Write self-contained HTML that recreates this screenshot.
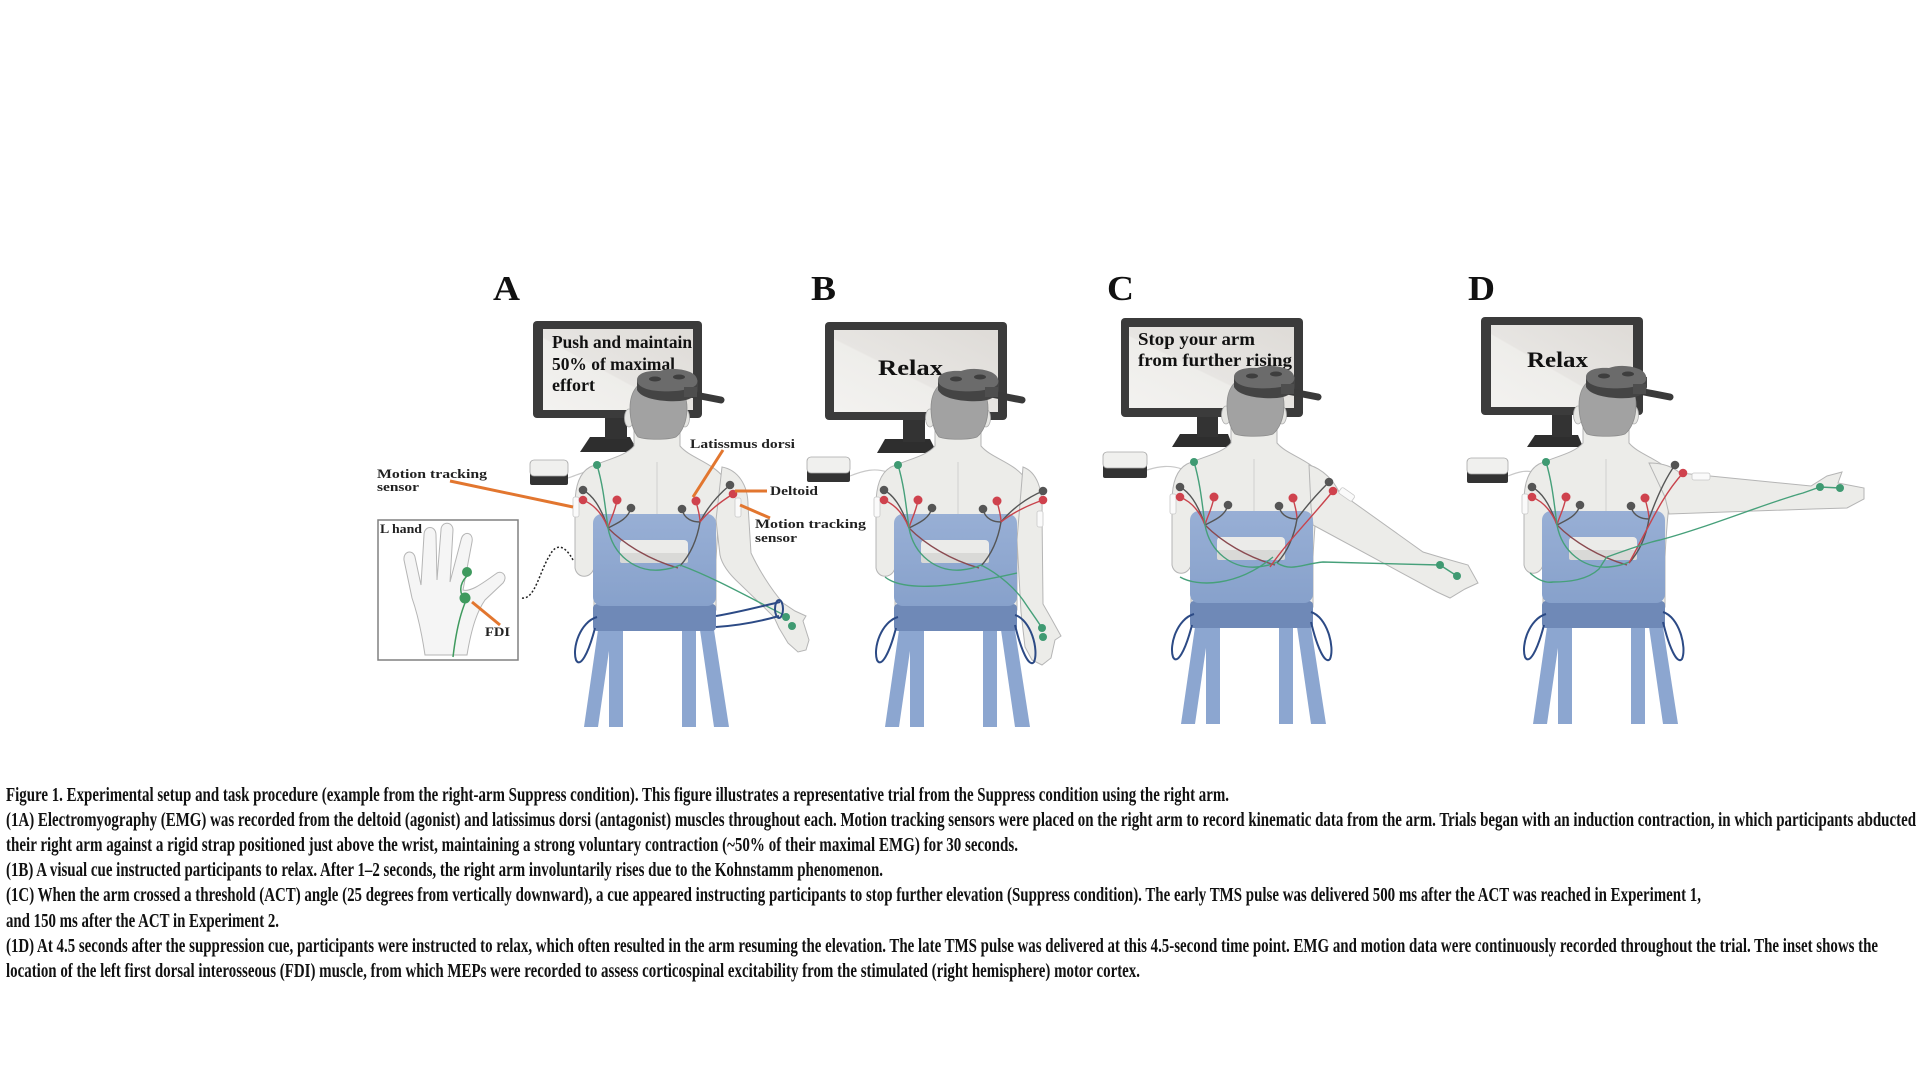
<!DOCTYPE html>
<html><head><meta charset="utf-8"><style>
html,body{margin:0;padding:0;background:#fff;}
svg{display:block;}
.lab{font-family:"Liberation Serif",serif;font-weight:bold;fill:#111;}
.cap{font-family:"Liberation Serif",serif;font-weight:bold;fill:#111;font-size:19.5px;}
.ann{font-family:"Liberation Serif",serif;font-weight:bold;fill:#222;font-size:13px;}
</style></head><body>
<svg width="1920" height="1079" viewBox="0 0 1920 1079" xmlns="http://www.w3.org/2000/svg">
<defs>
<linearGradient id="scr" x1="1" y1="0" x2="0" y2="1">
<stop offset="0" stop-color="#dedbd7"/><stop offset="0.55" stop-color="#e7e5e2"/><stop offset="0.56" stop-color="#eeedea"/><stop offset="1" stop-color="#f3f2f0"/>
</linearGradient>
<linearGradient id="chr" x1="0" y1="0" x2="0" y2="1">
<stop offset="0" stop-color="#98afd5"/><stop offset="1" stop-color="#87a1cb"/>
</linearGradient>
<g id="tb">
<path d="M634 430 L634 446 C626 456 605 460 590 467 C579 473 575 488 575 505 L575 568 C577 579 591 579 594 568 L594 610 L716 610 L716 560 C718 520 722 490 724 478 C712 462 690 458 680 446 L680 430 Z" fill="#ecece9" stroke="#b5b5b5" stroke-width="1"/>
<path d="M657 462 L657 515" stroke="#cfcfcf" stroke-width="1"/>
<rect x="573" y="497" width="6" height="20" rx="2" fill="#fafafa" stroke="#c8c8c8" stroke-width="0.8"/>
<ellipse cx="629" cy="418" rx="4.5" ry="9" fill="#e6e6e3" stroke="#b0b0b0" stroke-width="0.8"/>
<ellipse cx="685" cy="418" rx="4.5" ry="9" fill="#e6e6e3" stroke="#b0b0b0" stroke-width="0.8"/>
<path d="M630 408 C630 388 642 378 657 378 C674 378 687 390 687 408 C687 422 682 432 676 437 C668 440 646 440 638 437 C633 431 630 420 630 408 Z" fill="#a2a2a2" stroke="#8c8c8c" stroke-width="0.8"/>
<path d="M690 394 L721 400" stroke="#3a3a3a" stroke-width="7" stroke-linecap="round"/>
<path d="M637 380 L637 390 C642 400 666 402 680 401 C690 400 697 396 698 390 L698 380 Z" fill="#444"/>
<path d="M637 380 C637 373 648 370 660 371 C668 368 680 368 690 372 C697 375 699 381 696 385 C690 391 670 392 658 391 C645 390 637 386 637 380 Z" fill="#6b6b6b"/>
<rect x="684" y="387" width="13" height="10" fill="#4e4e4e"/>
<ellipse cx="655" cy="379" rx="6" ry="2.5" fill="#3e3e3e"/>
<ellipse cx="679" cy="377" rx="6" ry="2.5" fill="#3e3e3e"/>
</g>
<g id="tf">
<polygon points="598,630 612,630 598,727 584,727" fill="#8ca6d0"/>
<polygon points="609,630 623,630 623,727 609,727" fill="#8ca6d0"/>
<polygon points="682,630 696,630 696,727 682,727" fill="#8ca6d0"/>
<polygon points="700,630 714,630 729,727 714,727" fill="#8ca6d0"/>
<rect x="593" y="604" width="123" height="27" rx="4" fill="#6f89b7"/>
<rect x="593" y="514" width="123" height="92" rx="9" fill="url(#chr)"/>
<rect x="620" y="540" width="68" height="23" rx="4" fill="#ebebe9"/>
<rect x="620" y="553" width="68" height="10" rx="2" fill="#d9d9d7"/>
<g fill="none" stroke-width="1.4">
<path d="M583 490 C592 495 600 505 608 528" stroke="#555"/>
<path d="M583 500 C595 505 603 515 608 528" stroke="#c8434c"/>
<path d="M617 500 C615 512 610 520 608 528" stroke="#c8434c"/>
<path d="M631 508 C628 520 615 524 608 528" stroke="#555"/>
<path d="M608 528 C625 545 650 560 678 568" stroke="#8a4a50"/>
<path d="M682 509 C684 520 694 522 700 522" stroke="#555"/>
<path d="M696 501 C698 510 700 515 700 522" stroke="#c8434c"/>
<path d="M700 522 C697 540 690 555 680 566" stroke="#555"/>
<path d="M597 465 C603 485 605 505 608 528 C613 555 635 572 660 570 C670 569 676 567 680 565" stroke="#46a07a"/>
</g>
<circle cx="597" cy="465" r="4" fill="#3f9a72"/>
<circle cx="583" cy="490" r="4.3" fill="#555"/>
<circle cx="583" cy="500" r="4.3" fill="#cf424d"/>
<circle cx="617" cy="500" r="4.5" fill="#cf424d"/>
<circle cx="631" cy="508" r="4.3" fill="#555"/>
<circle cx="682" cy="509" r="4.3" fill="#555"/>
<circle cx="696" cy="501" r="4.5" fill="#cf424d"/>
<path d="M597 617 C580 622 572 648 576 660 C580 668 588 655 595 628" fill="none" stroke="#2c4a85" stroke-width="2"/>
</g>
</defs>
<rect width="1920" height="1079" fill="#fff"/>

<!-- Panel labels -->
<text class="lab" x="493" y="300" font-size="35" textLength="27" lengthAdjust="spacingAndGlyphs">A</text>
<text class="lab" x="811" y="300" font-size="35" textLength="25" lengthAdjust="spacingAndGlyphs">B</text>
<text class="lab" x="1107" y="300" font-size="35" textLength="27" lengthAdjust="spacingAndGlyphs">C</text>
<text class="lab" x="1468" y="300" font-size="35" textLength="27" lengthAdjust="spacingAndGlyphs">D</text>

<!-- ================= PANEL A ================= -->
<polygon points="590,437 630,437 638,452 580,452" fill="#2e2e2e"/>
<rect x="605" y="416" width="22" height="23" fill="#333"/>
<rect x="533" y="321" width="169" height="97" rx="4" fill="#3b3b3b"/>
<rect x="543" y="329" width="150" height="81" fill="url(#scr)"/>
<text class="lab" x="552" y="348" font-size="18" textLength="140" lengthAdjust="spacingAndGlyphs">Push and maintain</text>
<text class="lab" x="552" y="370" font-size="18" textLength="123" lengthAdjust="spacingAndGlyphs">50% of maximal</text>
<text class="lab" x="552" y="391" font-size="18" textLength="43" lengthAdjust="spacingAndGlyphs">effort</text>
<path d="M568 478 C575 476 580 473 586 472" fill="none" stroke="#c8c8c8" stroke-width="1.2"/>
<rect x="530" y="472" width="38" height="13" rx="2" fill="#333"/>
<rect x="530" y="460" width="38" height="16" rx="4" fill="#f0f0ee" stroke="#a8a8a8" stroke-width="0.8"/>
<g>
<use href="#tb"/>
<path d="M722 467 C738 470 748 485 748 505 L751 553 C758 568 770 588 783 603 L795 611 L806 616 L803 621 L809 640 L806 650 L798 652 L788 643 L779 628 L774 617 L740 584 C730 575 722 565 720 555 L716 520 Z" fill="#ecece9" stroke="#b5b5b5" stroke-width="1"/>
<rect x="735" y="498" width="6" height="19" rx="2" fill="#fafafa" stroke="#c8c8c8" stroke-width="0.8"/>
<use href="#tf"/>
<g fill="none" stroke-width="1.4">
<path d="M730 485 C718 495 707 508 700 522" stroke="#555"/>
<path d="M733 494 C720 502 708 512 700 522" stroke="#c8434c"/>
<path d="M680 565 C715 578 750 598 784 615" stroke="#46a07a"/>
<path d="M716 616 C740 612 762 606 780 602" stroke="#2c4a85" stroke-width="2"/>
<path d="M716 627 C745 625 765 620 779 616" stroke="#2c4a85" stroke-width="2"/>
<ellipse cx="779" cy="609" rx="4" ry="9" stroke="#2c4a85" stroke-width="2"/>
</g>
<circle cx="730" cy="485" r="4.3" fill="#555"/>
<circle cx="733" cy="494" r="4.3" fill="#cf424d"/>
<circle cx="786" cy="617" r="4" fill="#3f9a72"/>
<circle cx="792" cy="626" r="4" fill="#3f9a72"/>
</g>
<!-- annotations A -->
<g stroke="#e2762f" stroke-width="3" fill="none">
<path d="M450 481 L573 507"/>
<path d="M723 450 L693 497"/>
<path d="M735 491 L767 491"/>
<path d="M740 505 L770 518"/>
</g>
<text class="ann" x="377" y="478" textLength="110" lengthAdjust="spacingAndGlyphs">Motion tracking</text>
<text class="ann" x="377" y="491" textLength="42" lengthAdjust="spacingAndGlyphs">sensor</text>
<text class="ann" x="690" y="448" textLength="105" lengthAdjust="spacingAndGlyphs">Latissmus dorsi</text>
<text class="ann" x="770" y="495" textLength="48" lengthAdjust="spacingAndGlyphs">Deltoid</text>
<text class="ann" x="755" y="528" textLength="111" lengthAdjust="spacingAndGlyphs">Motion tracking</text>
<text class="ann" x="755" y="542" textLength="42" lengthAdjust="spacingAndGlyphs">sensor</text>
<!-- inset -->
<rect x="378" y="520" width="140" height="140" fill="#fff" stroke="#808080" stroke-width="1.5"/>
<text class="ann" x="380" y="533" font-size="12" textLength="42" lengthAdjust="spacingAndGlyphs">L hand</text>
<path d="M425 655 C422 635 418 615 412 598 L404 560 C403 551 413 549 415 557 L421 585 L424 535 C424 525 436 525 436 535 L437 580 L441 530 C441 521 453 521 453 530 L450 582 L461 540 C463 530 474 532 472 542 L463 590 C470 592 480 585 490 578 L497 573 C503 570 508 577 503 583 L485 600 C478 610 472 625 467 655 Z" fill="#f5f5f5" stroke="#b5b5b5" stroke-width="1"/>
<g stroke="#3f9a5e" stroke-width="1.5" fill="none">
<path d="M467 576 C458 585 460 595 465 598"/>
<path d="M465 603 C458 620 455 640 453 657"/>
</g>
<circle cx="467" cy="572" r="5" fill="#3f9a5e"/>
<circle cx="465" cy="598" r="5.5" fill="#3f9a5e"/>
<g stroke="#e2762f" stroke-width="3"><path d="M472 602 L500 625"/></g>
<text class="ann" x="485" y="636" textLength="25" lengthAdjust="spacingAndGlyphs">FDI</text>
<path d="M522 598 C535 600 540 570 550 555 C556 543 565 545 573 560" fill="none" stroke="#222" stroke-width="1.5" stroke-dasharray="2 2"/>

<!-- ================= PANEL B ================= -->
<polygon points="885,439 930,439 937,453 877,453" fill="#2e2e2e"/>
<rect x="903" y="418" width="22" height="24" fill="#333"/>
<rect x="825" y="322" width="182" height="98" rx="4" fill="#3b3b3b"/>
<rect x="834" y="330" width="164" height="82" fill="url(#scr)"/>
<text class="lab" x="878" y="375" font-size="22" textLength="65" lengthAdjust="spacingAndGlyphs">Relax</text>
<path d="M850 476 C865 470 875 468 887 472" fill="none" stroke="#c8c8c8" stroke-width="1.2"/>
<rect x="807" y="469" width="43" height="13" rx="2" fill="#333"/>
<rect x="807" y="457" width="43" height="16" rx="4" fill="#f0f0ee" stroke="#a8a8a8" stroke-width="0.8"/>
<g transform="translate(301,0)">
<use href="#tb"/>
<path d="M722 467 C736 472 742 490 741 512 L742 604 L750 618 L760 636 L754 640 L750 658 L741 665 L731 660 L724 647 L720 612 L716 540 Z" fill="#ecece9" stroke="#b5b5b5" stroke-width="1"/>
<rect x="736" y="511" width="6" height="16" rx="2" fill="#fafafa" stroke="#c8c8c8" stroke-width="0.8"/>
<use href="#tf"/>
<g fill="none" stroke-width="1.4">
<path d="M742 491 C725 498 710 510 700 522" stroke="#555"/>
<path d="M742 500 C725 506 710 514 700 522" stroke="#c8434c"/>
<path d="M680 565 C700 575 715 590 722 600 C730 612 736 620 741 628" stroke="#46a07a"/>
<path d="M584 577 C600 590 640 590 716 573" stroke="#46a07a"/>
<path d="M714 615 C730 620 738 650 733 662 C728 668 720 650 714 625" stroke="#2c4a85" stroke-width="2"/>
</g>
<circle cx="742" cy="491" r="4.3" fill="#555"/>
<circle cx="742" cy="500" r="4.3" fill="#cf424d"/>
<circle cx="741" cy="628" r="4" fill="#3f9a72"/>
<circle cx="742" cy="637" r="4" fill="#3f9a72"/>
</g>

<!-- ================= PANEL C ================= -->
<polygon points="1180,434 1228,434 1233,447 1172,447" fill="#2e2e2e"/>
<rect x="1197" y="415" width="21" height="22" fill="#333"/>
<rect x="1121" y="318" width="182" height="99" rx="4" fill="#3b3b3b"/>
<rect x="1129" y="327" width="165" height="81" fill="url(#scr)"/>
<text class="lab" x="1138" y="345" font-size="18" textLength="117" lengthAdjust="spacingAndGlyphs">Stop your arm</text>
<text class="lab" x="1138" y="366" font-size="18" textLength="154" lengthAdjust="spacingAndGlyphs">from further rising</text>
<path d="M1147 470 C1160 466 1170 465 1182 469" fill="none" stroke="#c8c8c8" stroke-width="1.2"/>
<rect x="1103" y="465" width="44" height="13" rx="2" fill="#333"/>
<rect x="1103" y="452" width="44" height="16" rx="4" fill="#f0f0ee" stroke="#a8a8a8" stroke-width="0.8"/>
<g transform="translate(597,-3)">
<use href="#tb"/>
<path d="M712 468 C726 472 737 484 742 495 L826 555 L846 561 L871 568 L881 586 L868 592 L853 601 L840 595 L716 528 L714 510 Z" fill="#ecece9" stroke="#b5b5b5" stroke-width="1"/>
<rect x="742" y="494" width="16" height="7" rx="2" transform="rotate(35 750 497)" fill="#fafafa" stroke="#c8c8c8" stroke-width="0.8"/>
<use href="#tf"/>
<g fill="none" stroke-width="1.4">
<path d="M732 485 C722 495 710 508 700 522" stroke="#555"/>
<path d="M736 494 C715 520 690 545 673 570" stroke="#c8434c"/>
<path d="M680 566 C695 575 705 567 726 565 L843 568 L860 579" stroke="#46a07a"/>
<path d="M583 580 C600 590 640 590 676 560" stroke="#46a07a"/>
<path d="M714 615 C730 620 738 650 733 662 C728 668 720 650 714 625" stroke="#2c4a85" stroke-width="2"/>
</g>
<circle cx="732" cy="485" r="4.3" fill="#555"/>
<circle cx="736" cy="494" r="4.3" fill="#cf424d"/>
<circle cx="843" cy="568" r="4" fill="#3f9a72"/>
<circle cx="860" cy="579" r="4" fill="#3f9a72"/>
</g>

<!-- ================= PANEL D ================= -->
<polygon points="1535,435 1578,435 1583,447 1527,447" fill="#2e2e2e"/>
<rect x="1552" y="413" width="20" height="24" fill="#333"/>
<rect x="1481" y="317" width="162" height="98" rx="4" fill="#3b3b3b"/>
<rect x="1491" y="325" width="142" height="82" fill="url(#scr)"/>
<text class="lab" x="1527" y="367" font-size="22" textLength="61" lengthAdjust="spacingAndGlyphs">Relax</text>
<path d="M1508 476 C1518 472 1525 470 1534 472" fill="none" stroke="#c8c8c8" stroke-width="1.2"/>
<rect x="1467" y="470" width="41" height="13" rx="2" fill="#333"/>
<rect x="1467" y="458" width="41" height="16" rx="4" fill="#f0f0ee" stroke="#a8a8a8" stroke-width="0.8"/>
<g transform="translate(949,-3)">
<use href="#tb"/>
<path d="M700 466 C714 466 724 470 731 476 L862 489 L878 479 L893 475 L889 486 L915 491 L915 502 L898 511 L864 512 L720 517 L716 500 Z" fill="#ecece9" stroke="#b5b5b5" stroke-width="1"/>
<rect x="743" y="476" width="18" height="7" rx="2" fill="#fafafa" stroke="#c8c8c8" stroke-width="0.8"/>
<use href="#tf"/>
<g fill="none" stroke-width="1.4">
<path d="M726 468 C714 485 706 505 700 522" stroke="#555"/>
<path d="M734 476 C712 500 700 530 680 566" stroke="#c8434c"/>
<path d="M581 576 C590 584 598 586 604 585 C620 585 638 583 650 572 C654 566 656 562 658 560 C680 552 700 545 711 543 C760 530 820 505 854 496 L871 490 L891 491" stroke="#46a07a"/>
<path d="M714 615 C730 620 738 650 733 662 C728 668 720 650 714 625" stroke="#2c4a85" stroke-width="2"/>
</g>
<circle cx="726" cy="468" r="4.3" fill="#555"/>
<circle cx="734" cy="476" r="4.3" fill="#cf424d"/>
<circle cx="871" cy="490" r="4" fill="#3f9a72"/>
<circle cx="891" cy="491" r="4" fill="#3f9a72"/>
</g>

<!-- ================= CAPTION ================= -->
<text class="cap" x="6" y="801" textLength="1223" lengthAdjust="spacingAndGlyphs">Figure 1. Experimental setup and task procedure (example from the right-arm Suppress condition). This figure illustrates a representative trial from the Suppress condition using the right arm.</text>
<text class="cap" x="6" y="826" textLength="1910" lengthAdjust="spacingAndGlyphs">(1A) Electromyography (EMG) was recorded from the deltoid (agonist) and latissimus dorsi (antagonist) muscles throughout each. Motion tracking sensors were placed on the right arm to record kinematic data from the arm. Trials began with an induction contraction, in which participants abducted</text>
<text class="cap" x="6" y="851" textLength="1012" lengthAdjust="spacingAndGlyphs">their right arm against a rigid strap positioned just above the wrist, maintaining a strong voluntary contraction (~50% of their maximal EMG) for 30 seconds.</text>
<text class="cap" x="6" y="876" textLength="877" lengthAdjust="spacingAndGlyphs">(1B) A visual cue instructed participants to relax. After 1–2 seconds, the right arm involuntarily rises due to the Kohnstamm phenomenon.</text>
<text class="cap" x="6" y="901" textLength="1695" lengthAdjust="spacingAndGlyphs">(1C) When the arm crossed a threshold (ACT) angle (25 degrees from vertically downward), a cue appeared instructing participants to stop further elevation (Suppress condition). The early TMS pulse was delivered 500 ms after the ACT was reached in Experiment 1,</text>
<text class="cap" x="6" y="927" textLength="273" lengthAdjust="spacingAndGlyphs">and 150 ms after the ACT in Experiment 2.</text>
<text class="cap" x="6" y="952" textLength="1872" lengthAdjust="spacingAndGlyphs">(1D) At 4.5 seconds after the suppression cue, participants were instructed to relax, which often resulted in the arm resuming the elevation. The late TMS pulse was delivered at this 4.5-second time point. EMG and motion data were continuously recorded throughout the trial. The inset shows the</text>
<text class="cap" x="6" y="977" textLength="1134" lengthAdjust="spacingAndGlyphs">location of the left first dorsal interosseous (FDI) muscle, from which MEPs were recorded to assess corticospinal excitability from the stimulated (right hemisphere) motor cortex.</text>
</svg>
</body></html>
